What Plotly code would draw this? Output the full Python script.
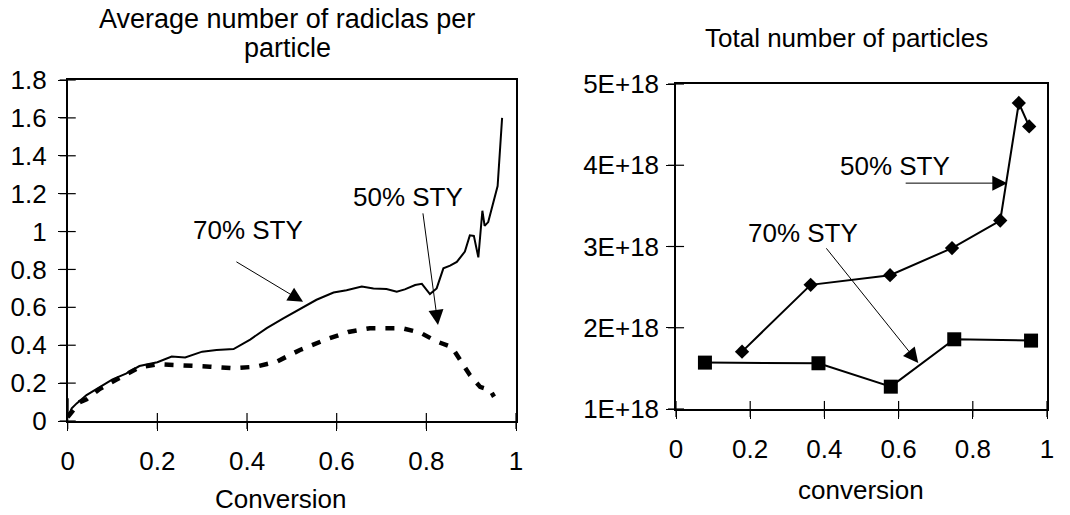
import plotly.graph_objects as go

# ---------------- data: left chart (average number of radicals per particle)
conv_70 = [0.0, 0.0, 0.009, 0.02, 0.042, 0.072, 0.10, 0.13, 0.16, 0.20, 0.232, 0.262,
           0.30, 0.332, 0.37, 0.407, 0.444, 0.48, 0.526, 0.555, 0.593, 0.622, 0.656,
           0.682, 0.711, 0.734, 0.752, 0.775, 0.79, 0.808, 0.823, 0.838, 0.853, 0.868,
           0.886, 0.897, 0.906, 0.916, 0.925, 0.93, 0.938, 0.95, 0.959, 0.969]
nbar_70 = [0.12, 0.02, 0.067, 0.093, 0.137, 0.18, 0.22, 0.25, 0.29, 0.31, 0.34, 0.335,
           0.366, 0.375, 0.38, 0.43, 0.49, 0.54, 0.60, 0.64, 0.678, 0.69, 0.71,
           0.70, 0.697, 0.683, 0.695, 0.718, 0.724, 0.67, 0.70, 0.806, 0.82, 0.84,
           0.894, 0.98, 0.977, 0.864, 1.11, 1.03, 1.05, 1.16, 1.24, 1.60]

conv_50 = [0.0, 0.009, 0.027, 0.042, 0.072, 0.11, 0.16, 0.20, 0.258, 0.317, 0.37, 0.42,
           0.466, 0.518, 0.576, 0.626, 0.674, 0.711, 0.745, 0.786, 0.823, 0.857, 0.879,
           0.897, 0.92, 0.942, 0.951]
nbar_50 = [0.02, 0.05, 0.10, 0.115, 0.17, 0.22, 0.283, 0.30, 0.296, 0.287, 0.278, 0.287,
           0.313, 0.375, 0.43, 0.47, 0.49, 0.493, 0.49, 0.467, 0.42, 0.39, 0.313,
           0.243, 0.18, 0.164, 0.128]

left_xrange = [0, 1]
left_yrange = [0, 1.8]
left_xticks = [0, 0.2, 0.4, 0.6, 0.8, 1]
left_xticktext = ["0", "0.2", "0.4", "0.6", "0.8", "1"]
left_yticks = [0, 0.2, 0.4, 0.6, 0.8, 1.0, 1.2, 1.4, 1.6, 1.8]
left_yticktext = ["0", "0.2", "0.4", "0.6", "0.8", "1", "1.2", "1.4", "1.6", "1.8"]

# ---------------- data: right chart (total number of particles)
conv_p50 = [0.178, 0.363, 0.577, 0.744, 0.874, 0.924, 0.952]
npart_50 = [1.706e18, 2.528e18, 2.647e18, 2.98e18, 3.32e18, 4.766e18, 4.478e18]

conv_p70 = [0.078, 0.384, 0.579, 0.75, 0.957]
npart_70 = [1.571e18, 1.563e18, 1.275e18, 1.858e18, 1.842e18]

right_xrange = [0, 1]
right_yrange = [1e18, 5e18]
right_xticks = [0, 0.2, 0.4, 0.6, 0.8, 1]
right_xticktext = ["0", "0.2", "0.4", "0.6", "0.8", "1"]
right_yticks = [1e18, 2e18, 3e18, 4e18, 5e18]
right_yticktext = ["1E+18", "2E+18", "3E+18", "4E+18", "5E+18"]

FONT = "Liberation Sans, Arial, sans-serif"
W, H = 1070, 515


def px(xp):
    return xp / W


def py(yp):
    return 1 - yp / H


fig = go.Figure()

fig.add_trace(go.Scatter(x=conv_70, y=nbar_70, mode="lines",
                         line=dict(color="black", width=2), xaxis="x", yaxis="y",
                         showlegend=False))
fig.add_trace(go.Scatter(x=conv_50, y=nbar_50, mode="lines",
                         line=dict(color="black", width=4.5, dash="9px,10px"),
                         xaxis="x", yaxis="y", showlegend=False))

fig.add_trace(go.Scatter(x=conv_p50, y=npart_50, mode="lines+markers",
                         line=dict(color="black", width=2),
                         marker=dict(symbol="diamond", size=11, color="black"),
                         xaxis="x2", yaxis="y2", showlegend=False))
fig.add_trace(go.Scatter(x=conv_p70, y=npart_70, mode="lines+markers",
                         line=dict(color="black", width=2),
                         marker=dict(symbol="square", size=14, color="black"),
                         xaxis="x2", yaxis="y2", showlegend=False))


def cross_ticks(xa, ya, xticks, yticks, xr, yr):
    """Excel-style ticks that cross the axis line, placed at the tick values."""
    mk = dict(color="black", size=11.5, line=dict(color="black", width=1.2))
    fig.add_trace(go.Scatter(x=xticks, y=[yr[0]] * len(xticks), mode="markers",
                             marker=dict(symbol="line-ns", **mk), cliponaxis=False,
                             xaxis=xa, yaxis=ya, showlegend=False, hoverinfo="skip"))
    fig.add_trace(go.Scatter(x=[xr[0]] * len(yticks), y=yticks, mode="markers",
                             marker=dict(symbol="line-ew", **mk), cliponaxis=False,
                             xaxis=xa, yaxis=ya, showlegend=False, hoverinfo="skip"))


cross_ticks("x", "y", left_xticks, left_yticks, left_xrange, left_yrange)
cross_ticks("x2", "y2", right_xticks, right_yticks, right_xrange, right_yrange)

tickfont = dict(family=FONT, size=26, color="black")
common = dict(showgrid=False, zeroline=False, showline=True, linecolor="black",
              linewidth=1.5, mirror=True, ticks="outside", ticklen=8,
              tickcolor="black", tickwidth=1.2, tickfont=tickfont, automargin=False,
              tickmode="array")

LX = [px(67.7), px(516)]
LY = [py(421), py(80)]
RX = [px(676), px(1047)]
RY = [py(409), py(84)]

fig.update_layout(
    width=W, height=H,
    margin=dict(l=0, r=0, t=0, b=0),
    paper_bgcolor="white", plot_bgcolor="white",
    font=dict(family=FONT, color="black"),
    xaxis=dict(domain=LX, range=left_xrange, anchor="y", tickvals=left_xticks,
               ticktext=left_xticktext, ticklabelstandoff=8, **common),
    yaxis=dict(domain=LY, range=left_yrange, anchor="x", tickvals=left_yticks,
               ticktext=left_yticktext, ticklabelstandoff=6, **common),
    xaxis2=dict(domain=RX, range=right_xrange, anchor="y2", tickvals=right_xticks,
                ticktext=right_xticktext, ticklabelstandoff=8, **common),
    yaxis2=dict(domain=RY, range=right_yrange, anchor="x2", tickvals=right_yticks,
                ticktext=right_yticktext, ticklabelstandoff=2, **common),
)

afont = dict(family=FONT, size=26, color="black")
tfont = dict(family=FONT, size=27, color="black")
annotations = [
    # titles
    dict(text="Average number of radiclas per", x=px(287), y=py(19), xref="paper",
         yref="paper", showarrow=False, font=tfont, xanchor="center", yanchor="middle"),
    dict(text="particle", x=px(287), y=py(48), xref="paper",
         yref="paper", showarrow=False, font=tfont, xanchor="center", yanchor="middle"),
    dict(text="Total number of particles", x=px(846), y=py(38), xref="paper",
         yref="paper", showarrow=False, font=afont, xanchor="center", yanchor="middle"),
    dict(text="Conversion", x=px(281), y=py(499), xref="paper", yref="paper",
         showarrow=False, font=afont, xanchor="center", yanchor="middle"),
    dict(text="conversion", x=px(861), y=py(490), xref="paper", yref="paper",
         showarrow=False, font=afont, xanchor="center", yanchor="middle"),
    # series labels
    dict(text="70% STY", x=0.402, y=1.01, xref="x", yref="y", showarrow=False,
         font=afont, xanchor="center", yanchor="middle"),
    dict(text="50% STY", x=0.76, y=1.183, xref="x", yref="y", showarrow=False,
         font=afont, xanchor="center", yanchor="middle"),
    dict(text="50% STY", x=0.591, y=3.99e18, xref="x2", yref="y2", showarrow=False,
         font=afont, xanchor="center", yanchor="middle"),
    dict(text="70% STY", x=0.343, y=3.17e18, xref="x2", yref="y2", showarrow=False,
         font=afont, xanchor="center", yanchor="middle"),
]
arrows = [
    ("x", "y", 0.525, 0.629, 0.373, 0.845),
    ("x", "y", 0.826, 0.507, 0.792, 1.104),
    ("x2", "y2", 0.893, 3.78e18, 0.615, 3.78e18),
    ("x2", "y2", 0.653, 1.567e18, 0.402, 2.996e18),
]
for xr, yr, hx, hy, tx, ty in arrows:
    annotations.append(dict(text="", x=hx, y=hy, xref=xr, yref=yr, ax=tx, ay=ty,
                            axref=xr, ayref=yr, showarrow=True, arrowhead=2,
                            arrowsize=3, arrowwidth=1, arrowcolor="black"))
fig.update_layout(annotations=annotations)

fig.write_html("out.html", config={"displayModeBar": False},
               post_script="document.body.style.margin='0';"
                           "document.body.style.overflow='hidden';")
